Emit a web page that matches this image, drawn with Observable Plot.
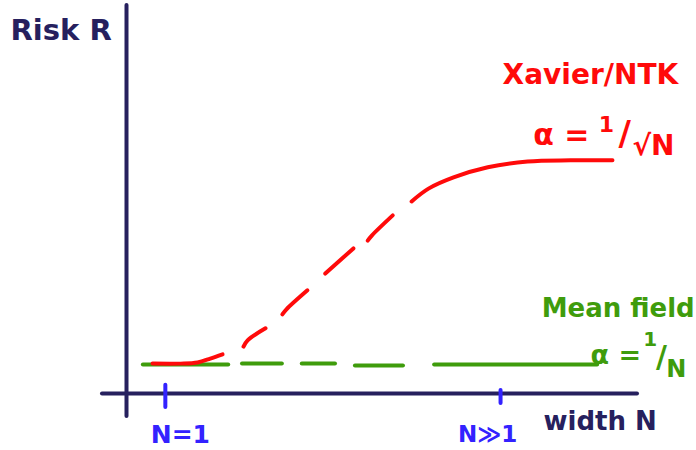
<!DOCTYPE html>
<html>
<head>
<meta charset="utf-8">
<script src="https://cdn.jsdelivr.net/npm/d3@7"></script>
<script src="https://cdn.jsdelivr.net/npm/@observablehq/plot@0.6"></script>
<style>
  html, body { margin: 0; padding: 0; background: #fff; }
</style>
</head>
<body>
<div id="chart"></div>
<script>
// Xavier/NTK risk curve (segments of the hand-drawn dashed/solid line)
const redSeg = [0,0,0,0,0, 1,1,1, 2,2,2, 3,3, 4,4,4, 5,5,5,5,5,5,5];
const redX   = [5.1,10.6,13.9,16.4,18.8, 22.9,23.7,27.2, 30.5,31.3,35.4, 38.9,44.4, 47.2,48.0,52.1, 55.8,59.1,64.0,70.7,78.5,86.9,95.1];
const redY   = [7.7,7.7,8.0,9.0,10.1, 12.1,13.7,16.8, 20.4,21.7,26.6, 30.9,37.4, 39.4,40.7,45.9, 49.5,52.8,55.7,58.3,59.8,60.1,60.1];

// Mean field risk: dashes [start, end] at a flat level
const greenX1 = [3.3, 22.7, 34.4, 44.8, 60.3];
const greenX2 = [20.0, 30.5, 40.9, 54.2, 92.2];
const greenY  = [7.5, 7.7, 7.7, 7.2, 7.5];

// x-axis tick marks
const tickLabels = ["N=1", "N≫1"];
const tickValues = [7.6, 73.2];

const red = "#ff0a0a", green = "#3f9c0c", navy = "#26205e", blue = "#3322ff";
const font = "DejaVu Sans";

const redData = redX.map((x, i) => ({x, y: redY[i], seg: redSeg[i]}));
const greenData = greenX1.map((x1, i) => ({x1, x2: greenX2[i], y: greenY[i]}));
const tickData = tickValues.map((x, i) => ({x, label: tickLabels[i], y1: i === 0 ? 2.1 : 0.8, y2: i === 0 ? -3.6 : -2.6}));

const txt = (s, o) => Plot.text([s], {text: d => d, fontFamily: font, fontWeight: "bold", ...o});

const chart = Plot.plot({
  width: 696,
  height: 450,
  marginLeft: 126,
  marginRight: 59,
  marginTop: 5,
  marginBottom: 57,
  x: {domain: [0, 100], axis: null},
  y: {domain: [0, 100], axis: null},
  style: {background: "white", overflow: "visible"},
  marks: [
    // axes
    Plot.ruleX([0], {y1: -5.9, y2: 100, stroke: navy, strokeWidth: 4, strokeLinecap: "round"}),
    Plot.ruleY([0], {x1: -4.7, x2: 100, stroke: navy, strokeWidth: 4, strokeLinecap: "round"}),
    // ticks
    Plot.ruleX(tickData, {x: "x", y1: "y1", y2: "y2", stroke: blue, strokeWidth: 4, strokeLinecap: "round"}),
    // mean field
    Plot.ruleY(greenData, {y: "y", x1: "x1", x2: "x2", stroke: green, strokeWidth: 4, strokeLinecap: "round"}),
    // xavier/ntk
    Plot.line(redData, {x: "x", y: "y", z: "seg", stroke: red, strokeWidth: 4, strokeLinecap: "round", strokeLinejoin: "round", curve: "catmull-rom"}),
    // tick labels
    Plot.text([tickData[0]], {x: "x", y: -10.7, text: "label", dx: 15, fill: blue, fontFamily: font, fontWeight: "bold", fontSize: 25}),
    Plot.text([tickData[1]], {x: "x", y: -10.7, text: "label", dx: -13, fill: blue, fontFamily: font, fontWeight: "bold", fontSize: 23}),
    // axis labels
    txt("Risk R", {x: -22.7, y: 93.6, textAnchor: "start", fill: navy, fontSize: 29}),
    txt("width N", {x: 81.6, y: -7.2, textAnchor: "start", fill: navy, fontSize: 26}),
    // red annotation
    txt("Xavier/NTK", {x: 73.6, y: 82.2, textAnchor: "start", fill: red, fontSize: 28}),
    txt("α =", {x: 79.6, y: 66.5, textAnchor: "start", fill: red, fontSize: 30}),
    txt("1", {x: 93.9, y: 69.1, fill: red, fontSize: 22}),
    txt("/", {x: 97.5, y: 66.8, fill: red, fontSize: 34}),
    txt("√N", {x: 99.0, y: 63.9, textAnchor: "start", fill: red, fontSize: 28}),
    // green annotation
    txt("Mean field", {x: 111.2, y: 21.9, textAnchor: "end", fill: green, fontSize: 26}),
    txt("α =", {x: 90.8, y: 9.8, textAnchor: "start", fill: green, fontSize: 27}),
    txt("1", {x: 102.5, y: 13.9, fill: green, fontSize: 20}),
    txt("/", {x: 104.7, y: 9.3, fill: green, fontSize: 30}),
    txt("N", {x: 107.6, y: 6.2, fill: green, fontSize: 24})
  ]
});
document.getElementById("chart").appendChild(chart);
</script>
</body>
</html>
